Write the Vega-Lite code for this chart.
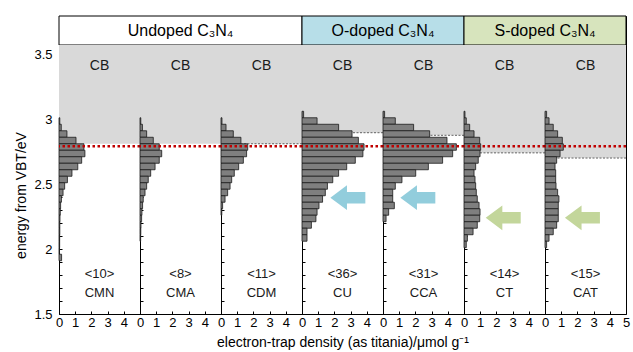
{
"$schema":"https://vega.github.io/schema/vega-lite/v6.json",
"padding":{"left":14,"top":15,"right":4,"bottom":4},
"config":{
 "font":"Liberation Sans",
 "view":{"stroke":"#000","strokeWidth":1},
 "axis":{"domain":false,"grid":false,"tickSize":-3,"tickColor":"#000","tickWidth":1,"labelColor":"#000","labelFont":"Liberation Sans","labelFontSize":13,"titleFont":"Liberation Sans","titleFontSize":14,"titleFontWeight":"normal","titleColor":"#000","labelFlush":false,"labelOverlap":false,"labelPadding":5,"tickCount":100},
 "text":{"font":"Liberation Sans"}
},
"datasets":{
 "panels":[
  {"panel":"CMN","count":"<10>","cb":2.81},
  {"panel":"CMA","count":"<8>","cb":2.81},
  {"panel":"CDM","count":"<11>","cb":2.81},
  {"panel":"CU","count":"<36>","cb":2.895},
  {"panel":"CCA","count":"<31>","cb":2.875},
  {"panel":"CT","count":"<14>","cb":2.74},
  {"panel":"CAT","count":"<15>","cb":2.70}
 ],
 "bars":[
  {"panel":"CMN","lo":2.96,"hi":3.01,"density":0.05},
  {"panel":"CMN","lo":2.91,"hi":2.96,"density":0.14},
  {"panel":"CMN","lo":2.86,"hi":2.91,"density":0.49},
  {"panel":"CMN","lo":2.81,"hi":2.86,"density":1.05},
  {"panel":"CMN","lo":2.76,"hi":2.81,"density":1.54},
  {"panel":"CMN","lo":2.71,"hi":2.76,"density":1.6},
  {"panel":"CMN","lo":2.66,"hi":2.71,"density":1.4},
  {"panel":"CMN","lo":2.61,"hi":2.66,"density":1.16},
  {"panel":"CMN","lo":2.56,"hi":2.61,"density":0.8},
  {"panel":"CMN","lo":2.51,"hi":2.56,"density":0.52},
  {"panel":"CMN","lo":2.46,"hi":2.51,"density":0.35},
  {"panel":"CMN","lo":2.41,"hi":2.46,"density":0.25},
  {"panel":"CMN","lo":2.36,"hi":2.41,"density":0.15},
  {"panel":"CMN","lo":2.31,"hi":2.36,"density":0.1},
  {"panel":"CMN","lo":2.26,"hi":2.31,"density":0.08},
  {"panel":"CMN","lo":2.21,"hi":2.26,"density":0.06},
  {"panel":"CMN","lo":2.16,"hi":2.21,"density":0.05},
  {"panel":"CMN","lo":2.11,"hi":2.16,"density":0.05},
  {"panel":"CMN","lo":2.06,"hi":2.11,"density":0.04},
  {"panel":"CMN","lo":2.01,"hi":2.06,"density":0.04},
  {"panel":"CMN","lo":1.96,"hi":2.01,"density":0.03},
  {"panel":"CMN","lo":1.91,"hi":1.96,"density":0.16},
  {"panel":"CMA","lo":2.96,"hi":3.01,"density":0.05},
  {"panel":"CMA","lo":2.91,"hi":2.96,"density":0.15},
  {"panel":"CMA","lo":2.86,"hi":2.91,"density":0.41},
  {"panel":"CMA","lo":2.81,"hi":2.86,"density":0.82},
  {"panel":"CMA","lo":2.76,"hi":2.81,"density":1.19},
  {"panel":"CMA","lo":2.71,"hi":2.76,"density":1.34},
  {"panel":"CMA","lo":2.66,"hi":2.71,"density":1.19},
  {"panel":"CMA","lo":2.61,"hi":2.66,"density":0.93},
  {"panel":"CMA","lo":2.56,"hi":2.61,"density":0.66},
  {"panel":"CMA","lo":2.51,"hi":2.56,"density":0.51},
  {"panel":"CMA","lo":2.46,"hi":2.51,"density":0.41},
  {"panel":"CMA","lo":2.41,"hi":2.46,"density":0.31},
  {"panel":"CMA","lo":2.36,"hi":2.41,"density":0.2},
  {"panel":"CMA","lo":2.31,"hi":2.36,"density":0.16},
  {"panel":"CMA","lo":2.26,"hi":2.31,"density":0.12},
  {"panel":"CMA","lo":2.21,"hi":2.26,"density":0.1},
  {"panel":"CMA","lo":2.16,"hi":2.21,"density":0.06},
  {"panel":"CMA","lo":2.11,"hi":2.16,"density":0.05},
  {"panel":"CMA","lo":2.06,"hi":2.11,"density":0.04},
  {"panel":"CDM","lo":2.96,"hi":3.01,"density":0.06},
  {"panel":"CDM","lo":2.91,"hi":2.96,"density":0.31},
  {"panel":"CDM","lo":2.86,"hi":2.91,"density":0.76},
  {"panel":"CDM","lo":2.81,"hi":2.86,"density":1.23},
  {"panel":"CDM","lo":2.76,"hi":2.81,"density":1.65},
  {"panel":"CDM","lo":2.71,"hi":2.76,"density":1.58},
  {"panel":"CDM","lo":2.66,"hi":2.71,"density":1.38},
  {"panel":"CDM","lo":2.61,"hi":2.66,"density":1.09},
  {"panel":"CDM","lo":2.56,"hi":2.61,"density":0.82},
  {"panel":"CDM","lo":2.51,"hi":2.56,"density":0.66},
  {"panel":"CDM","lo":2.46,"hi":2.51,"density":0.56},
  {"panel":"CDM","lo":2.41,"hi":2.46,"density":0.41},
  {"panel":"CDM","lo":2.36,"hi":2.41,"density":0.25},
  {"panel":"CDM","lo":2.31,"hi":2.36,"density":0.1},
  {"panel":"CDM","lo":2.26,"hi":2.31,"density":0.05},
  {"panel":"CU","lo":3.01,"hi":3.06,"density":0.1},
  {"panel":"CU","lo":2.96,"hi":3.01,"density":0.93},
  {"panel":"CU","lo":2.91,"hi":2.96,"density":2.26},
  {"panel":"CU","lo":2.86,"hi":2.91,"density":3.09},
  {"panel":"CU","lo":2.81,"hi":2.86,"density":3.48},
  {"panel":"CU","lo":2.76,"hi":2.81,"density":3.83},
  {"panel":"CU","lo":2.71,"hi":2.76,"density":3.76},
  {"panel":"CU","lo":2.66,"hi":2.71,"density":3.29},
  {"panel":"CU","lo":2.61,"hi":2.66,"density":2.76},
  {"panel":"CU","lo":2.56,"hi":2.61,"density":2.26},
  {"panel":"CU","lo":2.51,"hi":2.56,"density":1.9},
  {"panel":"CU","lo":2.46,"hi":2.51,"density":1.57},
  {"panel":"CU","lo":2.41,"hi":2.46,"density":1.44},
  {"panel":"CU","lo":2.36,"hi":2.41,"density":1.27},
  {"panel":"CU","lo":2.31,"hi":2.36,"density":1.05},
  {"panel":"CU","lo":2.26,"hi":2.31,"density":0.93},
  {"panel":"CU","lo":2.21,"hi":2.26,"density":0.86},
  {"panel":"CU","lo":2.16,"hi":2.21,"density":0.58},
  {"panel":"CU","lo":2.11,"hi":2.16,"density":0.31},
  {"panel":"CU","lo":2.06,"hi":2.11,"density":0.31},
  {"panel":"CCA","lo":3.01,"hi":3.06,"density":0.1},
  {"panel":"CCA","lo":2.96,"hi":3.01,"density":0.76},
  {"panel":"CCA","lo":2.91,"hi":2.96,"density":1.89},
  {"panel":"CCA","lo":2.86,"hi":2.91,"density":2.88},
  {"panel":"CCA","lo":2.81,"hi":2.86,"density":3.95},
  {"panel":"CCA","lo":2.76,"hi":2.81,"density":4.53},
  {"panel":"CCA","lo":2.71,"hi":2.76,"density":4.3},
  {"panel":"CCA","lo":2.66,"hi":2.71,"density":3.68},
  {"panel":"CCA","lo":2.61,"hi":2.66,"density":2.8},
  {"panel":"CCA","lo":2.56,"hi":2.61,"density":2.02},
  {"panel":"CCA","lo":2.51,"hi":2.56,"density":1.17},
  {"panel":"CCA","lo":2.46,"hi":2.51,"density":0.76},
  {"panel":"CCA","lo":2.41,"hi":2.46,"density":0.6},
  {"panel":"CCA","lo":2.36,"hi":2.41,"density":0.6},
  {"panel":"CCA","lo":2.31,"hi":2.36,"density":0.7},
  {"panel":"CCA","lo":2.26,"hi":2.31,"density":0.35},
  {"panel":"CCA","lo":2.21,"hi":2.26,"density":0.19},
  {"panel":"CT","lo":3.01,"hi":3.06,"density":0.06},
  {"panel":"CT","lo":2.96,"hi":3.01,"density":0.14},
  {"panel":"CT","lo":2.91,"hi":2.96,"density":0.35},
  {"panel":"CT","lo":2.86,"hi":2.91,"density":0.62},
  {"panel":"CT","lo":2.81,"hi":2.86,"density":0.97},
  {"panel":"CT","lo":2.76,"hi":2.81,"density":1.03},
  {"panel":"CT","lo":2.71,"hi":2.76,"density":0.99},
  {"panel":"CT","lo":2.66,"hi":2.71,"density":0.88},
  {"panel":"CT","lo":2.61,"hi":2.66,"density":0.72},
  {"panel":"CT","lo":2.56,"hi":2.61,"density":0.62},
  {"panel":"CT","lo":2.51,"hi":2.56,"density":0.68},
  {"panel":"CT","lo":2.46,"hi":2.51,"density":0.72},
  {"panel":"CT","lo":2.41,"hi":2.46,"density":0.76},
  {"panel":"CT","lo":2.36,"hi":2.41,"density":0.82},
  {"panel":"CT","lo":2.31,"hi":2.36,"density":0.93},
  {"panel":"CT","lo":2.26,"hi":2.31,"density":0.99},
  {"panel":"CT","lo":2.21,"hi":2.26,"density":0.97},
  {"panel":"CT","lo":2.16,"hi":2.21,"density":0.82},
  {"panel":"CT","lo":2.11,"hi":2.16,"density":0.56},
  {"panel":"CT","lo":2.06,"hi":2.11,"density":0.21},
  {"panel":"CT","lo":2.01,"hi":2.06,"density":0.14},
  {"panel":"CAT","lo":3.01,"hi":3.06,"density":0.1},
  {"panel":"CAT","lo":2.96,"hi":3.01,"density":0.25},
  {"panel":"CAT","lo":2.91,"hi":2.96,"density":0.51},
  {"panel":"CAT","lo":2.86,"hi":2.91,"density":0.78},
  {"panel":"CAT","lo":2.81,"hi":2.86,"density":1.07},
  {"panel":"CAT","lo":2.76,"hi":2.81,"density":1.13},
  {"panel":"CAT","lo":2.71,"hi":2.76,"density":0.93},
  {"panel":"CAT","lo":2.66,"hi":2.71,"density":0.72},
  {"panel":"CAT","lo":2.61,"hi":2.66,"density":0.62},
  {"panel":"CAT","lo":2.56,"hi":2.61,"density":0.66},
  {"panel":"CAT","lo":2.51,"hi":2.56,"density":0.66},
  {"panel":"CAT","lo":2.46,"hi":2.51,"density":0.68},
  {"panel":"CAT","lo":2.41,"hi":2.46,"density":0.78},
  {"panel":"CAT","lo":2.36,"hi":2.41,"density":0.86},
  {"panel":"CAT","lo":2.31,"hi":2.36,"density":0.82},
  {"panel":"CAT","lo":2.26,"hi":2.31,"density":0.82},
  {"panel":"CAT","lo":2.21,"hi":2.26,"density":0.82},
  {"panel":"CAT","lo":2.16,"hi":2.21,"density":0.72},
  {"panel":"CAT","lo":2.11,"hi":2.16,"density":0.51},
  {"panel":"CAT","lo":2.06,"hi":2.11,"density":0.25},
  {"panel":"CAT","lo":2.01,"hi":2.06,"density":0.1}
 ]
},
"spacing":0,
"bounds":"flush",
"vconcat":[
 {
  "width":567,"height":29,
  "data":{"values":[{"group":"Undoped C₃N₄","first":0,"last":3},{"group":"O-doped C₃N₄","first":3,"last":5},{"group":"S-doped C₃N₄","first":5,"last":7}]},
  "transform":[{"calculate":"(datum.first+datum.last)/2","as":"mid"}],
  "layer":[
   {"mark":{"type":"rect","stroke":"#000","strokeWidth":1},"encoding":{"x":{"field":"first","type":"quantitative","scale":{"domain":[0,7],"nice":false,"zero":false},"axis":null},"x2":{"field":"last"},"fill":{"field":"group","type":"nominal","scale":{"domain":["Undoped C₃N₄","O-doped C₃N₄","S-doped C₃N₄"],"range":["#ffffff","#b7dee8","#d7e4bd"]},"legend":null}}},
   {"mark":{"type":"text","fontSize":16,"color":"#000"},"encoding":{"x":{"field":"mid","type":"quantitative"},"text":{"field":"group"}}}
  ]
 },
 {
  "spacing":0,
  "bounds":"flush",
  "hconcat":[
   {"width":81,"height":269,"layer":[
    {"data":{"name":"panels"},"transform":[{"filter":"datum.panel==='CMN'"}],"mark":{"type":"rect","fill":"#d9d9d9"},"encoding":{"y":{"field":"cb","type":"quantitative","scale":{"domain":[1.5,3.57],"nice":false,"zero":false},"axis":{"values":[1.5,1.6,1.7,1.8,1.9,2,2.1,2.2,2.3,2.4,2.5,2.6,2.7,2.8,2.9,3,3.1,3.2,3.3,3.4,3.5],"tickCount":100,"labelExpr":"round(datum.value*10) % 5 === 0 ? format(datum.value, '~g') : ''","labelOverlap":false,"title":"energy from VBT/eV","labelPadding":10,"titlePadding":5,"titleY":150}},"y2":{"value":0}}},
    {"data":{"name":"bars"},"transform":[{"filter":"datum.panel==='CMN'"}],"mark":{"type":"rect","fill":"#7f7f7f","stroke":"#1a1a1a","strokeWidth":0.8},"encoding":{"x":{"field":"density","type":"quantitative","scale":{"domain":[0,5],"nice":false},"axis":{"values":[0,1,2,3,4,5],"tickCount":100,"format":"d","labelExpr":"datum.value < 5 ? datum.label : ''","labelOverlap":false,"labelFlush":false,"title":null}},"x2":{"datum":0},"y":{"field":"lo","type":"quantitative"},"y2":{"field":"hi"}}},
    {"data":{"values":[{}]},"mark":{"type":"rule","color":"#c00000","strokeWidth":2.5,"strokeDash":[2.5,2.5]},"encoding":{"y":{"datum":2.79}}},
    {"data":{"name":"panels"},"transform":[{"filter":"datum.panel==='CMN'"}],"mark":{"type":"text","fontSize":14,"color":"#1a1a1a"},"encoding":{"y":{"datum":3.41},"text":{"value":"CB"}}},
    {"data":{"name":"panels"},"transform":[{"filter":"datum.panel==='CMN'"}],"mark":{"type":"text","fontSize":13,"color":"#1a1a1a"},"encoding":{"y":{"datum":1.805},"text":{"field":"count"}}},
    {"data":{"name":"panels"},"transform":[{"filter":"datum.panel==='CMN'"}],"mark":{"type":"text","fontSize":13,"color":"#1a1a1a"},"encoding":{"y":{"datum":1.665},"text":{"field":"panel"}}}
   ]},
   {"width":81,"height":269,"layer":[
    {"data":{"name":"panels"},"transform":[{"filter":"datum.panel==='CMA'"}],"mark":{"type":"rect","fill":"#d9d9d9"},"encoding":{"y":{"field":"cb","type":"quantitative","scale":{"domain":[1.5,3.57],"nice":false,"zero":false},"axis":{"values":[1.5,1.6,1.7,1.8,1.9,2,2.1,2.2,2.3,2.4,2.5,2.6,2.7,2.8,2.9,3,3.1,3.2,3.3,3.4,3.5],"tickCount":100,"labels":false,"title":null}},"y2":{"value":0}}},
    {"data":{"name":"bars"},"transform":[{"filter":"datum.panel==='CMA'"}],"mark":{"type":"rect","fill":"#7f7f7f","stroke":"#1a1a1a","strokeWidth":0.8},"encoding":{"x":{"field":"density","type":"quantitative","scale":{"domain":[0,5],"nice":false},"axis":{"values":[0,1,2,3,4,5],"tickCount":100,"format":"d","labelExpr":"datum.value < 5 ? datum.label : ''","labelOverlap":false,"labelFlush":false,"title":null}},"x2":{"datum":0},"y":{"field":"lo","type":"quantitative"},"y2":{"field":"hi"}}},
    {"data":{"values":[{}]},"mark":{"type":"rule","color":"#c00000","strokeWidth":2.5,"strokeDash":[2.5,2.5]},"encoding":{"y":{"datum":2.79}}},
    {"data":{"name":"panels"},"transform":[{"filter":"datum.panel==='CMA'"}],"mark":{"type":"text","fontSize":14,"color":"#1a1a1a"},"encoding":{"y":{"datum":3.41},"text":{"value":"CB"}}},
    {"data":{"name":"panels"},"transform":[{"filter":"datum.panel==='CMA'"}],"mark":{"type":"text","fontSize":13,"color":"#1a1a1a"},"encoding":{"y":{"datum":1.805},"text":{"field":"count"}}},
    {"data":{"name":"panels"},"transform":[{"filter":"datum.panel==='CMA'"}],"mark":{"type":"text","fontSize":13,"color":"#1a1a1a"},"encoding":{"y":{"datum":1.665},"text":{"field":"panel"}}}
   ]},
   {"width":81,"height":269,"layer":[
    {"data":{"name":"panels"},"transform":[{"filter":"datum.panel==='CDM'"}],"mark":{"type":"rect","fill":"#d9d9d9"},"encoding":{"y":{"field":"cb","type":"quantitative","scale":{"domain":[1.5,3.57],"nice":false,"zero":false},"axis":{"values":[1.5,1.6,1.7,1.8,1.9,2,2.1,2.2,2.3,2.4,2.5,2.6,2.7,2.8,2.9,3,3.1,3.2,3.3,3.4,3.5],"tickCount":100,"labels":false,"title":null}},"y2":{"value":0}}},
    {"data":{"name":"panels"},"transform":[{"filter":"datum.panel==='CDM'"}],"mark":{"type":"rule","color":"#404040","strokeWidth":0.8,"strokeDash":[2,1.5]},"encoding":{"y":{"field":"cb","type":"quantitative"}}},
    {"data":{"name":"bars"},"transform":[{"filter":"datum.panel==='CDM'"}],"mark":{"type":"rect","fill":"#7f7f7f","stroke":"#1a1a1a","strokeWidth":0.8},"encoding":{"x":{"field":"density","type":"quantitative","scale":{"domain":[0,5],"nice":false},"axis":{"values":[0,1,2,3,4,5],"tickCount":100,"format":"d","labelExpr":"datum.value < 5 ? datum.label : ''","labelOverlap":false,"labelFlush":false,"title":null}},"x2":{"datum":0},"y":{"field":"lo","type":"quantitative"},"y2":{"field":"hi"}}},
    {"data":{"values":[{}]},"mark":{"type":"rule","color":"#c00000","strokeWidth":2.5,"strokeDash":[2.5,2.5]},"encoding":{"y":{"datum":2.79}}},
    {"data":{"name":"panels"},"transform":[{"filter":"datum.panel==='CDM'"}],"mark":{"type":"text","fontSize":14,"color":"#1a1a1a"},"encoding":{"y":{"datum":3.41},"text":{"value":"CB"}}},
    {"data":{"name":"panels"},"transform":[{"filter":"datum.panel==='CDM'"}],"mark":{"type":"text","fontSize":13,"color":"#1a1a1a"},"encoding":{"y":{"datum":1.805},"text":{"field":"count"}}},
    {"data":{"name":"panels"},"transform":[{"filter":"datum.panel==='CDM'"}],"mark":{"type":"text","fontSize":13,"color":"#1a1a1a"},"encoding":{"y":{"datum":1.665},"text":{"field":"panel"}}}
   ]},
   {"width":81,"height":269,"layer":[
    {"data":{"name":"panels"},"transform":[{"filter":"datum.panel==='CU'"}],"mark":{"type":"rect","fill":"#d9d9d9"},"encoding":{"y":{"field":"cb","type":"quantitative","scale":{"domain":[1.5,3.57],"nice":false,"zero":false},"axis":{"values":[1.5,1.6,1.7,1.8,1.9,2,2.1,2.2,2.3,2.4,2.5,2.6,2.7,2.8,2.9,3,3.1,3.2,3.3,3.4,3.5],"tickCount":100,"labels":false,"title":null}},"y2":{"value":0}}},
    {"data":{"name":"panels"},"transform":[{"filter":"datum.panel==='CU'"}],"mark":{"type":"rule","color":"#404040","strokeWidth":0.8,"strokeDash":[2,1.5]},"encoding":{"y":{"field":"cb","type":"quantitative"}}},
    {"data":{"name":"bars"},"transform":[{"filter":"datum.panel==='CU'"}],"mark":{"type":"rect","fill":"#7f7f7f","stroke":"#1a1a1a","strokeWidth":0.8},"encoding":{"x":{"field":"density","type":"quantitative","scale":{"domain":[0,5],"nice":false},"axis":{"values":[0,1,2,3,4,5],"tickCount":100,"format":"d","labelExpr":"datum.value < 5 ? datum.label : ''","labelOverlap":false,"labelFlush":false,"title":"electron-trap density (as titania)/μmol g⁻¹","titlePadding":6}},"x2":{"datum":0},"y":{"field":"lo","type":"quantitative"},"y2":{"field":"hi"}}},
    {"data":{"values":[{}]},"mark":{"type":"point","shape":"M-1,0L-0.05,-0.71L-0.05,-0.33L1,-0.33L1,0.33L-0.05,0.33L-0.05,0.71Z","filled":true,"fill":"#92cddc","opacity":1,"size":1225,"strokeWidth":0},"encoding":{"x":{"datum":2.83},"y":{"datum":2.395}}},
    {"data":{"values":[{}]},"mark":{"type":"rule","color":"#c00000","strokeWidth":2.5,"strokeDash":[2.5,2.5]},"encoding":{"y":{"datum":2.79}}},
    {"data":{"name":"panels"},"transform":[{"filter":"datum.panel==='CU'"}],"mark":{"type":"text","fontSize":14,"color":"#1a1a1a"},"encoding":{"y":{"datum":3.41},"text":{"value":"CB"}}},
    {"data":{"name":"panels"},"transform":[{"filter":"datum.panel==='CU'"}],"mark":{"type":"text","fontSize":13,"color":"#1a1a1a"},"encoding":{"y":{"datum":1.805},"text":{"field":"count"}}},
    {"data":{"name":"panels"},"transform":[{"filter":"datum.panel==='CU'"}],"mark":{"type":"text","fontSize":13,"color":"#1a1a1a"},"encoding":{"y":{"datum":1.665},"text":{"field":"panel"}}}
   ]},
   {"width":81,"height":269,"layer":[
    {"data":{"name":"panels"},"transform":[{"filter":"datum.panel==='CCA'"}],"mark":{"type":"rect","fill":"#d9d9d9"},"encoding":{"y":{"field":"cb","type":"quantitative","scale":{"domain":[1.5,3.57],"nice":false,"zero":false},"axis":{"values":[1.5,1.6,1.7,1.8,1.9,2,2.1,2.2,2.3,2.4,2.5,2.6,2.7,2.8,2.9,3,3.1,3.2,3.3,3.4,3.5],"tickCount":100,"labels":false,"title":null}},"y2":{"value":0}}},
    {"data":{"name":"panels"},"transform":[{"filter":"datum.panel==='CCA'"}],"mark":{"type":"rule","color":"#404040","strokeWidth":0.8,"strokeDash":[2,1.5]},"encoding":{"y":{"field":"cb","type":"quantitative"}}},
    {"data":{"name":"bars"},"transform":[{"filter":"datum.panel==='CCA'"}],"mark":{"type":"rect","fill":"#7f7f7f","stroke":"#1a1a1a","strokeWidth":0.8},"encoding":{"x":{"field":"density","type":"quantitative","scale":{"domain":[0,5],"nice":false},"axis":{"values":[0,1,2,3,4,5],"tickCount":100,"format":"d","labelExpr":"datum.value < 5 ? datum.label : ''","labelOverlap":false,"labelFlush":false,"title":null}},"x2":{"datum":0},"y":{"field":"lo","type":"quantitative"},"y2":{"field":"hi"}}},
    {"data":{"values":[{}]},"mark":{"type":"point","shape":"M-1,0L-0.05,-0.71L-0.05,-0.33L1,-0.33L1,0.33L-0.05,0.33L-0.05,0.71Z","filled":true,"fill":"#92cddc","opacity":1,"size":1225,"strokeWidth":0},"encoding":{"x":{"datum":2.15},"y":{"datum":2.395}}},
    {"data":{"values":[{}]},"mark":{"type":"rule","color":"#c00000","strokeWidth":2.5,"strokeDash":[2.5,2.5]},"encoding":{"y":{"datum":2.79}}},
    {"data":{"name":"panels"},"transform":[{"filter":"datum.panel==='CCA'"}],"mark":{"type":"text","fontSize":14,"color":"#1a1a1a"},"encoding":{"y":{"datum":3.41},"text":{"value":"CB"}}},
    {"data":{"name":"panels"},"transform":[{"filter":"datum.panel==='CCA'"}],"mark":{"type":"text","fontSize":13,"color":"#1a1a1a"},"encoding":{"y":{"datum":1.805},"text":{"field":"count"}}},
    {"data":{"name":"panels"},"transform":[{"filter":"datum.panel==='CCA'"}],"mark":{"type":"text","fontSize":13,"color":"#1a1a1a"},"encoding":{"y":{"datum":1.665},"text":{"field":"panel"}}}
   ]},
   {"width":81,"height":269,"layer":[
    {"data":{"name":"panels"},"transform":[{"filter":"datum.panel==='CT'"}],"mark":{"type":"rect","fill":"#d9d9d9"},"encoding":{"y":{"field":"cb","type":"quantitative","scale":{"domain":[1.5,3.57],"nice":false,"zero":false},"axis":{"values":[1.5,1.6,1.7,1.8,1.9,2,2.1,2.2,2.3,2.4,2.5,2.6,2.7,2.8,2.9,3,3.1,3.2,3.3,3.4,3.5],"tickCount":100,"labels":false,"title":null}},"y2":{"value":0}}},
    {"data":{"name":"panels"},"transform":[{"filter":"datum.panel==='CT'"}],"mark":{"type":"rule","color":"#404040","strokeWidth":0.8,"strokeDash":[2,1.5]},"encoding":{"y":{"field":"cb","type":"quantitative"}}},
    {"data":{"name":"bars"},"transform":[{"filter":"datum.panel==='CT'"}],"mark":{"type":"rect","fill":"#7f7f7f","stroke":"#1a1a1a","strokeWidth":0.8},"encoding":{"x":{"field":"density","type":"quantitative","scale":{"domain":[0,5],"nice":false},"axis":{"values":[0,1,2,3,4,5],"tickCount":100,"format":"d","labelExpr":"datum.value < 5 ? datum.label : ''","labelOverlap":false,"labelFlush":false,"title":null}},"x2":{"datum":0},"y":{"field":"lo","type":"quantitative"},"y2":{"field":"hi"}}},
    {"data":{"values":[{}]},"mark":{"type":"point","shape":"M-1,0L-0.05,-0.71L-0.05,-0.33L1,-0.33L1,0.33L-0.05,0.33L-0.05,0.71Z","filled":true,"fill":"#c3d69b","opacity":1,"size":1225,"strokeWidth":0},"encoding":{"x":{"datum":2.42},"y":{"datum":2.24}}},
    {"data":{"values":[{}]},"mark":{"type":"rule","color":"#c00000","strokeWidth":2.5,"strokeDash":[2.5,2.5]},"encoding":{"y":{"datum":2.79}}},
    {"data":{"name":"panels"},"transform":[{"filter":"datum.panel==='CT'"}],"mark":{"type":"text","fontSize":14,"color":"#1a1a1a"},"encoding":{"y":{"datum":3.41},"text":{"value":"CB"}}},
    {"data":{"name":"panels"},"transform":[{"filter":"datum.panel==='CT'"}],"mark":{"type":"text","fontSize":13,"color":"#1a1a1a"},"encoding":{"y":{"datum":1.805},"text":{"field":"count"}}},
    {"data":{"name":"panels"},"transform":[{"filter":"datum.panel==='CT'"}],"mark":{"type":"text","fontSize":13,"color":"#1a1a1a"},"encoding":{"y":{"datum":1.665},"text":{"field":"panel"}}}
   ]},
   {"width":81,"height":269,"layer":[
    {"data":{"name":"panels"},"transform":[{"filter":"datum.panel==='CAT'"}],"mark":{"type":"rect","fill":"#d9d9d9"},"encoding":{"y":{"field":"cb","type":"quantitative","scale":{"domain":[1.5,3.57],"nice":false,"zero":false},"axis":{"values":[1.5,1.6,1.7,1.8,1.9,2,2.1,2.2,2.3,2.4,2.5,2.6,2.7,2.8,2.9,3,3.1,3.2,3.3,3.4,3.5],"tickCount":100,"labels":false,"title":null}},"y2":{"value":0}}},
    {"data":{"name":"panels"},"transform":[{"filter":"datum.panel==='CAT'"}],"mark":{"type":"rule","color":"#404040","strokeWidth":0.8,"strokeDash":[2,1.5]},"encoding":{"y":{"field":"cb","type":"quantitative"}}},
    {"data":{"name":"bars"},"transform":[{"filter":"datum.panel==='CAT'"}],"mark":{"type":"rect","fill":"#7f7f7f","stroke":"#1a1a1a","strokeWidth":0.8},"encoding":{"x":{"field":"density","type":"quantitative","scale":{"domain":[0,5],"nice":false},"axis":{"values":[0,1,2,3,4,5],"tickCount":100,"format":"d","labelOverlap":false,"labelFlush":false,"title":null}},"x2":{"datum":0},"y":{"field":"lo","type":"quantitative"},"y2":{"field":"hi"}}},
    {"data":{"values":[{}]},"mark":{"type":"point","shape":"M-1,0L-0.05,-0.71L-0.05,-0.33L1,-0.33L1,0.33L-0.05,0.33L-0.05,0.71Z","filled":true,"fill":"#c3d69b","opacity":1,"size":1225,"strokeWidth":0},"encoding":{"x":{"datum":2.31},"y":{"datum":2.24}}},
    {"data":{"values":[{}]},"mark":{"type":"rule","color":"#c00000","strokeWidth":2.5,"strokeDash":[2.5,2.5]},"encoding":{"y":{"datum":2.79}}},
    {"data":{"name":"panels"},"transform":[{"filter":"datum.panel==='CAT'"}],"mark":{"type":"text","fontSize":14,"color":"#1a1a1a"},"encoding":{"y":{"datum":3.41},"text":{"value":"CB"}}},
    {"data":{"name":"panels"},"transform":[{"filter":"datum.panel==='CAT'"}],"mark":{"type":"text","fontSize":13,"color":"#1a1a1a"},"encoding":{"y":{"datum":1.805},"text":{"field":"count"}}},
    {"data":{"name":"panels"},"transform":[{"filter":"datum.panel==='CAT'"}],"mark":{"type":"text","fontSize":13,"color":"#1a1a1a"},"encoding":{"y":{"datum":1.665},"text":{"field":"panel"}}}
   ]}
  ]
 }
]
}
